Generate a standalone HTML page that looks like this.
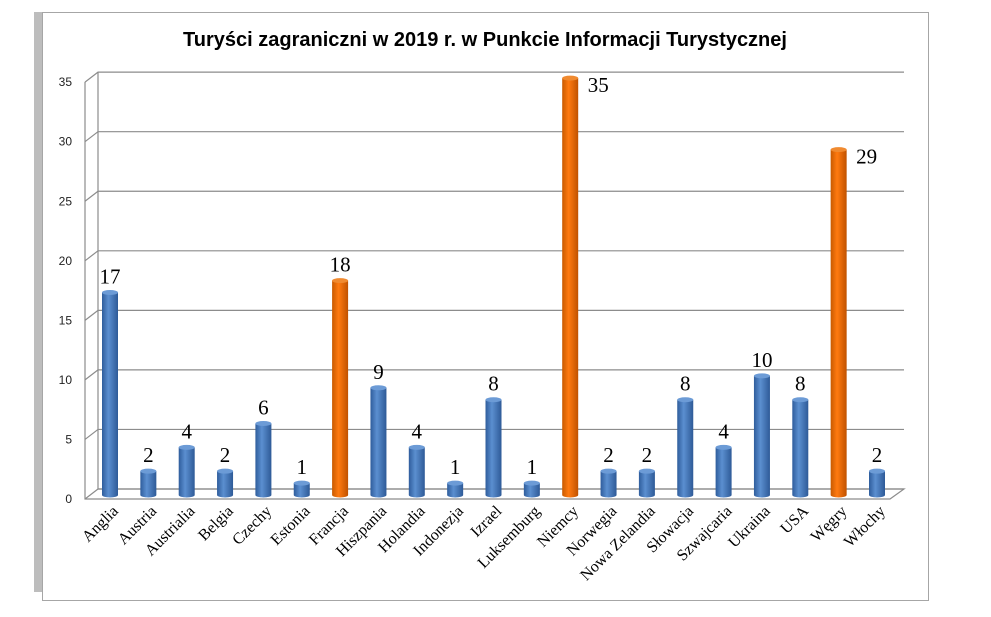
<!DOCTYPE html>
<html><head><meta charset="utf-8"><style>
body{margin:0;background:#fff;}
</style></head><body>
<svg width="991" height="612" xmlns="http://www.w3.org/2000/svg">
<defs>
<linearGradient id="b" x1="0" x2="1"><stop offset="0" stop-color="#2f5d9c"/><stop offset=".4" stop-color="#5b8fd0"/><stop offset="1" stop-color="#2e5a97"/></linearGradient>
<linearGradient id="o" x1="0" x2="1"><stop offset="0" stop-color="#c85a00"/><stop offset=".4" stop-color="#ff7a10"/><stop offset="1" stop-color="#c05200"/></linearGradient>
</defs>
<rect x="34" y="12" width="9" height="580" fill="#bdbdbd"/>
<rect x="42.5" y="12.5" width="886" height="588" fill="#fff" stroke="#a6a6a6"/>
<text x="485" y="46" text-anchor="middle" font-family="Liberation Sans, sans-serif" font-weight="bold" font-size="20">Turyści zagraniczni w 2019 r. w Punkcie Informacji Turystycznej</text>
<g stroke="#8c8c8c" stroke-width="1.2" fill="none" id="grid"></g>
<g id="bars"></g>
</svg>
<script>
var s=document.querySelector('svg'),g=document.getElementById('grid'),bs=document.getElementById('bars'),NS='http://www.w3.org/2000/svg';
function el(p,t,a,txt){var e=document.createElementNS(NS,t);for(var k in a)e.setAttribute(k,a[k]);if(txt!=null)e.textContent=txt;p.appendChild(e);return e;}
var u=11.91;
for(var i=0;i<=7;i++){var y=489-i*5*u;
 el(g,'path',{d:'M85 '+(y+10)+' L98 '+y+' L904 '+y});
 el(s,'text',{x:72,y:y+14,'text-anchor':'end','font-family':'Liberation Sans, sans-serif','font-size':12,fill:'#222'},String(i*5));}
el(g,'path',{d:'M85 82 L85 499 L890 499 L904 489 L98 489 L98 72'});
var d=[["Anglia",17],["Austria",2],["Austrialia",4],["Belgia",2],["Czechy",6],["Estonia",1],["Francja",18],["Hiszpania",9],["Holandia",4],["Indonezja",1],["Izrael",8],["Luksemburg",1],["Niemcy",35],["Norwegia",2],["Nowa Zelandia",2],["Słowacja",8],["Szwajcaria",4],["Ukraina",10],["USA",8],["Węgry",29],["Włochy",2]];
var n=d.length,x0=110,x1=877,dx=(x1-x0)/(n-1);
d.forEach(function(c,i){var cx=x0+i*dx,v=c[1],top=495-v*u,w=8;
 var or=(c[0]=="Francja"||c[0]=="Niemcy"||c[0]=="Węgry");
 var f=or?'url(#o)':'url(#b)';
 el(bs,'path',{d:'M'+(cx-w)+' '+top+' L'+(cx-w)+' 495 A'+w+' 2.5 0 0 0 '+(cx+w)+' 495 L'+(cx+w)+' '+top+' Z',fill:f});
 el(bs,'ellipse',{cx:cx,cy:top,rx:w,ry:2.5,fill:or?'#f08a30':'#6c9bd6'});
 var side=(c[0]=="Niemcy"||c[0]=="Węgry");
 var lx=side?cx+28:cx,ly=side?top+14:top-9;
 el(s,'text',{x:lx,y:ly,'text-anchor':'middle','font-family':'Liberation Serif, serif','font-size':21},String(v));
 el(s,'text',{x:cx+9,y:512,'text-anchor':'end','font-family':'Liberation Serif, serif','font-size':16,transform:'rotate(-45 '+(cx+9)+' 512)'},c[0]);
});
</script>
</body></html>
